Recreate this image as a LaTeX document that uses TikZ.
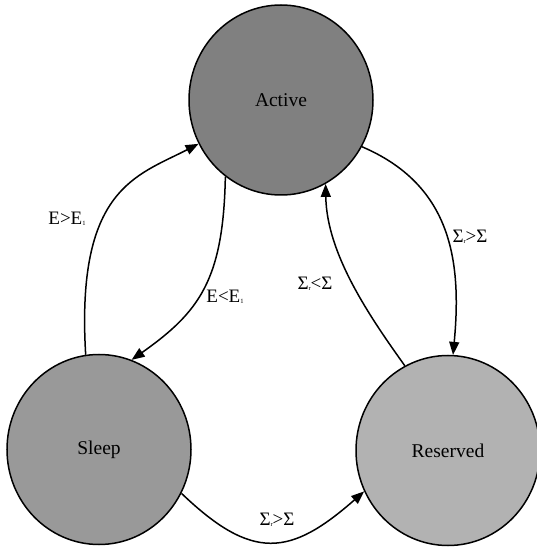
\documentclass[tikz,border=0pt]{standalone}
\usepackage{fontspec}
\setmainfont{Liberation Serif}
\usetikzlibrary{shapes.geometric,arrows.meta}
\newcommand{\subx}[1]{\raisebox{-1.5pt}{\fontsize{6.5}{6.5}\selectfont #1}}
\begin{document}
\begin{tikzpicture}[x=1pt,y=1pt,
  state/.style={ellipse,draw=black,line width=1.5pt,minimum width=184pt,minimum height=190pt,inner sep=0pt,
    font=\fontsize{19.5}{22}\selectfont},
  trans/.style={line width=1.5pt,-{Triangle[length=13pt,width=10pt]}},
  lab/.style={font=\fontsize{19}{22}\selectfont,inner sep=0pt}]
\useasboundingbox (0,0) rectangle (537,550);
\node[state,fill=black!50] (A) at (281,450) {Active};
\node[state,fill=black!40] (S) at (99,100.5) {Sleep};
\node[state,fill=black!30] (R) at (448,99.5) {Reserved};
% Sleep -> Active
\draw[trans] (S.98.5) .. controls +(-10,166) and +(-62,-32) .. (A.208.5);
% Active -> Sleep
\draw[trans] (A.234.5) .. controls +(-2,-103) and +(68,48) .. (S.70.2);
% Active -> Reserved
\draw[trans] (A.-30.4) .. controls +(89,-38) and +(9,95) .. (R.87);
% Reserved -> Active
\draw[trans] (R.117.2) .. controls +(-35,49) and +(1,-70) .. (A.-62.1);
% Sleep -> Reserved
\draw[trans] (S.-28) .. controls +(71,-68) and +(-74,-65) .. (R.206.8);
\node[lab] (l1) at (67,331) {E>E\subx{1}};
\node[lab] (l2) at (225,253) {E<E\subx{1}};
\node[lab] (l3) at (315,266) {Σ\subx{r}<Σ};
\node[lab] (l4) at (470,313) {Σ\subx{r}>Σ};
\node[lab] (l5) at (277,30) {Σ\subx{r}>Σ};
\end{tikzpicture}
\end{document}
